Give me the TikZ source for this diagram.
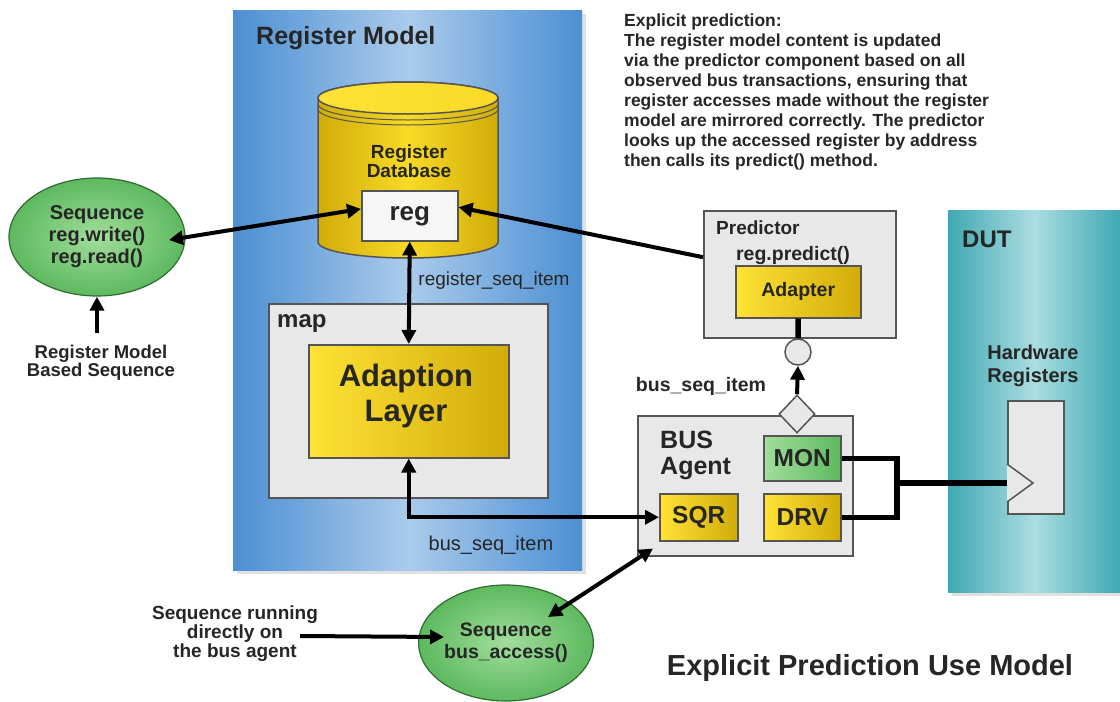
\documentclass[tikz,border=0pt]{standalone}
\usepackage{fontspec}
\setmainfont{Liberation Sans}
\usetikzlibrary{arrows.meta,shapes.geometric,calc}
\definecolor{txt}{HTML}{262626}
\definecolor{blueE}{HTML}{4C8FD3}
\definecolor{blueM}{HTML}{AACBEB}
\definecolor{tealE}{HTML}{3FA8B2}
\definecolor{tealM}{HTML}{ABDDE1}
\definecolor{goldL}{HTML}{FFE236}
\definecolor{goldD}{HTML}{D1AC08}
\definecolor{goldC}{HTML}{F8DA26}
\definecolor{greyF}{HTML}{E8E8E8}
\definecolor{edge}{HTML}{555555}
\definecolor{greenL}{HTML}{A2DE9C}
\definecolor{greenD}{HTML}{5DB95E}
\definecolor{greenB}{HTML}{2F6B33}
\newcommand\fsz[2]{\fontsize{#1}{#2}\selectfont}
\begin{document}
\begin{tikzpicture}[x=1pt,y=-1pt,
  >={Triangle[length=14pt,width=14pt]},
  text=txt, font=\bfseries,
  panel/.style={anchor=north west, inner sep=0pt},
  greybox/.style={anchor=north west, inner sep=0pt, draw=edge, line width=1.5pt, fill=greyF},
  goldbox/.style={draw=edge, line width=1.5pt, left color=goldL, right color=goldD, inner sep=0pt},
  seqell/.style={ellipse, draw=greenB, line width=1.2pt, inner color=greenL, outer color=greenD, inner sep=0pt, align=center},
  conn/.style={line width=4pt, draw=black},
  wire/.style={line width=5.5pt, draw=black},
  lbl/.style={inner sep=0pt, align=center}
]
\useasboundingbox (0,0) rectangle (1120,702);
\fill[white] (0,0) rectangle (1120,702);

% Register model panel
\fill[black!12] (237,14) rectangle (586,574);
\node[panel, minimum width=349pt, minimum height=560pt, left color=blueE, right color=blueE, middle color=blueM] (rm) at (233,10) {};
\node[lbl, anchor=west, font=\bfseries\fsz{25}{28}] (rmtitle) at (256,38) {Register Model};

% DUT panel
\fill[black!12] (952,214) rectangle (1120,596);
\node[panel, minimum width=172pt, minimum height=382pt, left color=tealE, right color=tealE, middle color=tealM] (dut) at (948,210) {};
\node[lbl, anchor=west, font=\bfseries\fsz{24}{26}] (duttitle) at (962,239) {DUT};

% cylinder
\shade[left color=goldD, right color=goldD, middle color=goldC, draw=edge, line width=1.5pt]
  (318,98) -- (318,242) arc[start angle=180, end angle=0, x radius=90, y radius=16]
  -- (498,98) arc[start angle=0, end angle=-180, x radius=90, y radius=16] -- cycle;
\shade[left color=goldL, right color=goldC, draw=edge, line width=1.5pt] (408,98) ellipse[x radius=90, y radius=16];
\draw[edge, line width=1pt] (318,104) arc[start angle=180, end angle=0, x radius=90, y radius=16];
\draw[edge, line width=1pt] (318,109) arc[start angle=180, end angle=0, x radius=90, y radius=16];
\node[lbl, font=\bfseries\fsz{19}{19.5}] (dbtxt) at (409,161) {Register\\Database};
\node[greybox, fill=white!60!greyF, minimum width=96pt, minimum height=50pt] (reg) at (361,190) {};
\node[lbl, font=\bfseries\fsz{26}{28}] at (reg.center) {reg};

\node[lbl, font=\fsz{19}{22}] (rsi) at (494,281) {register\_seq\_item};

% map
\node[greybox, minimum width=279pt, minimum height=194pt] (map) at (268,303) {};
\node[lbl, anchor=west, font=\bfseries\fsz{24}{26}] (maptxt) at (277,324) {map};
\node[goldbox, anchor=north west, minimum width=200pt, minimum height=113pt] (adapt) at (308,344) {};
\node[lbl, font=\bfseries\fsz{31}{35}] at (406,396) {Adaption\\Layer};
\node[lbl, font=\fsz{20}{22}] (bsi1) at (491,545) {bus\_seq\_item};

% left sequence
\node[seqell, minimum width=176pt, minimum height=118pt, font=\bfseries\fsz{20}{22}] (seq1) at (97,237) {Sequence\\reg.write()\\reg.read()};
\node[lbl, font=\bfseries\fsz{18.5}{18}] (rmbs) at (101,363) {Register Model\\Based Sequence};

% predictor
\node[greybox, minimum width=192pt, minimum height=127pt] (pred) at (703,210) {};
\node[lbl, anchor=west, font=\bfseries\fsz{19}{22}] (predtxt) at (716,228) {Predictor};
\node[lbl, font=\bfseries\fsz{19.5}{22}] (predict) at (793,255) {reg.predict()};
\node[goldbox, anchor=north west, minimum width=125pt, minimum height=52pt, font=\bfseries\fsz{19.5}{22}] (adapter) at (735,265) {Adapter};
\node[circle, draw=edge, line width=1.5pt, fill=greyF, minimum size=26pt, inner sep=0pt] (circ) at (798,352) {};
\node[lbl, font=\bfseries\fsz{19.5}{22}] (bsi2) at (701,386) {bus\_seq\_item};

% bus agent
\node[greybox, minimum width=215pt, minimum height=140pt] (agent) at (637,415) {};
\node[diamond, draw=edge, line width=1.5pt, fill=greyF, minimum width=36pt, minimum height=38pt, inner sep=0pt] (diam) at (797,414) {};
\node[lbl, anchor=west, align=left, font=\bfseries\fsz{25}{26}] (agtxt) at (660,455) {BUS\\Agent};
\node[anchor=north west, draw=edge, line width=1.5pt, left color=greenL, right color=greenD, minimum width=77pt, minimum height=45pt, inner sep=0pt, font=\bfseries\fsz{24.5}{26}] (mon) at (763,435) {MON};
\node[goldbox, anchor=north west, minimum width=78pt, minimum height=47pt, font=\bfseries\fsz{24.5}{26}] (sqr) at (659,493) {SQR};
\node[goldbox, anchor=north west, minimum width=77pt, minimum height=47pt, font=\bfseries\fsz{24.5}{26}] (drv) at (763,493) {DRV};

% hardware registers
\node[lbl, font=\bfseries\fsz{20}{23}] (hwtxt) at (1033,366) {Hardware\\Registers};
\node[greybox, minimum width=56pt, minimum height=113pt] (hw) at (1007,400) {};
\draw[edge, line width=1.5pt, fill=greyF] (1007,464) -- (1033,483) -- (1007,502);
\coordinate (hwin) at (1007,483);
\coordinate (junc) at (897,483);

% bottom sequence
\node[seqell, minimum width=172pt, minimum height=116pt, font=\bfseries\fsz{19.5}{22}] (seq2) at (506,643) {Sequence\\bus\_access()};
\node[lbl, font=\bfseries\fsz{19}{19}] (runtxt) at (235,634) {Sequence running\\directly on\\the bus agent};

% title and note
\node[lbl, font=\bfseries\fsz{29}{32}] (title) at (870,668) {Explicit Prediction Use Model};
\node[lbl, anchor=north west, align=left, font=\bfseries\fsz{17.5}{20}] (note) at (624,14) {Explicit prediction:\\
The register model content is updated\\
via the predictor component based on all\\
observed bus transactions, ensuring that\\
register accesses made without the register\\
model are mirrored correctly. The predictor\\
looks up the accessed register by address\\
then calls its predict() method.};

% connectors
\coordinate (rmbsA) at (97,333);
\draw[conn,<->] (reg.172) -- ($(seq1.center)+(72,3)$);
\draw[conn,->] (rmbsA) -- (seq1.south);
\draw[conn,<->] (reg.south) -- (adapt.north);
\draw[conn,->] (pred.170) -- (reg.10);
\draw[conn,<->] (sqr.west) -| (adapt.south);
\draw[wire] (adapter.south) -- (circ.north);
\draw[conn,->] (diam.north) -- (circ.south);
\draw[wire] (mon.east) -| (junc) |- (drv.east);
\draw[wire] (junc) -- (hwin);
\draw[conn,<->] ($(agent.south west)+(16,-8)$) -- ($(seq2.center)+(42,-26)$);
\draw[conn,->] ($(runtxt.east)+(-18,2)$) -- ($(seq2.west)+(26,-6)$);
\end{tikzpicture}
\end{document}
